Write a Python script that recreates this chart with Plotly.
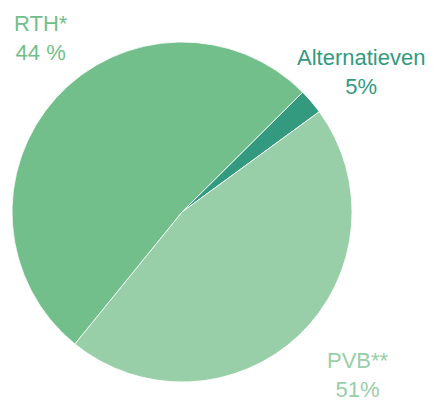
import plotly.graph_objects as go

labels = ["Alternatieven", "PVB**", "RTH*"]
values = [2.4, 45.9, 51.7]
colors = ["#339a7f", "#98cea8", "#72bf8b"]
label_texts = ["Alternatieven<br>5%", "PVB**<br>51%", "RTH*<br>44 %"]

W, H = 434, 401
cx, cy, r = 182, 212, 170

fig = go.Figure(go.Pie(
    labels=labels, values=values, sort=False, direction="clockwise",
    rotation=45.2, textinfo="none", hoverinfo="label",
    marker=dict(colors=colors, line=dict(color="white", width=0.8)),
    domain=dict(x=[(cx - r) / W, (cx + r) / W], y=[(H - cy - r) / H, (H - cy + r) / H]),
    showlegend=False,
))

label_pos = [(361, 72), (358, 375), (41, 38)]
for txt, col, (px, py) in zip(label_texts, colors, label_pos):
    fig.add_annotation(
        text=txt, x=px / W, y=(H - py) / H, xref="paper", yref="paper",
        xanchor="center", yanchor="middle", showarrow=False, align="center",
        font=dict(family="Liberation Sans, Arial", size=22, color=col),
    )

fig.update_layout(
    width=W, height=H, margin=dict(l=0, r=0, t=0, b=0),
    paper_bgcolor="white", plot_bgcolor="white",
)
fig.write_html(
    "out.html",
    config={"displayModeBar": False},
    post_script="document.body.style.margin='0';document.body.style.overflow='hidden';",
)
